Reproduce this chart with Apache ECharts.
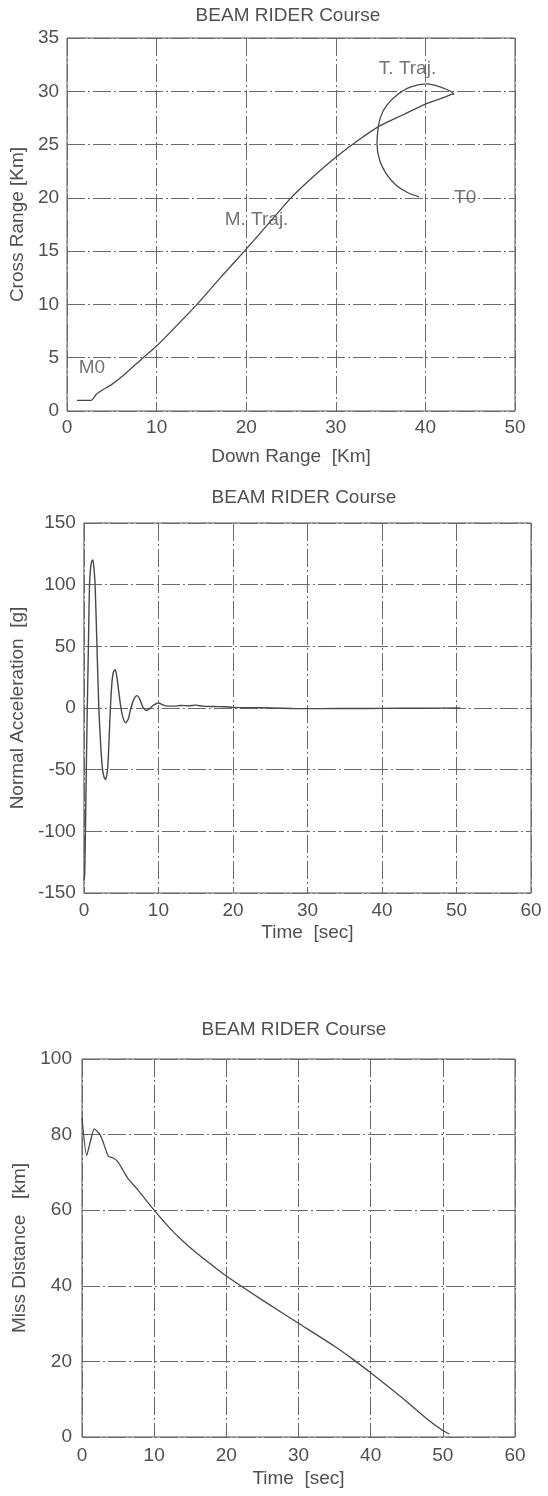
<!DOCTYPE html>
<html>
<head>
<meta charset="utf-8">
<script src="https://cdn.jsdelivr.net/npm/echarts@6/dist/echarts.min.js"></script>
<style>
html,body{margin:0;padding:0;background:#fff;}
#c{width:548px;height:1496px;}
</style>
</head>
<body>
<div id="c"></div>
<script>
var titles = ['BEAM RIDER Course', 'BEAM RIDER Course', 'BEAM RIDER Course'];
var xNames = ['Down Range  [Km]', 'Time  [sec]', 'Time  [sec]'];
var yNames = ['Cross Range [Km]', 'Normal Acceleration  [g]', 'Miss Distance   [km]'];

// ---------- Chart 1: trajectories ----------
var mTrajX = [1.1, 2.7, 3.3, 4.0, 5.0, 6.5, 8.5, 10.0, 12.0, 14.5, 17.0, 19.8, 22.5, 25.0, 27.5, 30.0, 32.5, 35.0, 37.5, 40.0, 42.0, 43.2];
var mTrajY = [1.0, 1.0, 1.6, 2.0, 2.5, 3.5, 5.0, 6.1, 7.8, 10.0, 12.4, 15.0, 17.6, 20.0, 22.0, 23.8, 25.4, 26.8, 27.8, 28.8, 29.4, 29.8];

var tTrajX = [39.3, 38.0, 36.7, 35.6, 34.9, 34.6, 34.7, 35.0, 35.7, 36.9, 38.3, 40.2, 41.7, 42.8, 43.2];
var tTrajY = [20.1, 20.5, 21.2, 22.3, 23.5, 25.0, 26.4, 27.6, 28.7, 29.7, 30.4, 30.7, 30.4, 30.0, 29.7];

var annoText = ['M0', 'M. Traj.', 'T. Traj.', 'T0'];
var annoX = [1.3, 17.6, 34.8, 43.2];
var annoY = [4.1, 17.9, 32.1, 20.0];

// ---------- Chart 2: normal acceleration ----------
var accT = [0, 0.1, 0.2, 0.32, 0.45, 0.6, 0.75, 0.9, 1.05, 1.2, 1.35, 1.5, 1.75, 2.0, 2.25, 2.5, 2.7, 2.88, 3.05, 3.2, 3.38, 3.55, 3.75, 3.95, 4.2, 4.45, 4.7, 4.97, 5.25, 5.6, 5.95, 6.3, 6.7, 7.1, 7.5, 7.9, 8.4, 8.9, 9.4, 10.0, 10.6, 11.2, 12.0, 13.0, 14.0, 15.0, 16.0, 17.5, 19.0, 20.0, 22.0, 25.0, 28.0, 32.0, 36.0, 40.0, 45.0, 50.5];
var accVal = [-140, -135, -100, -50, 0, 50, 100, 114, 119, 120, 113, 100, 50, 0, -30, -50, -56, -58, -55, -48, -25, 0, 20, 29, 31, 24, 12, 0, -8, -12, -9, 0, 7, 10, 7, 1, -2, 0, 2.5, 4, 2.5, 1.5, 1.5, 2, 1.8, 2.3, 1.5, 1.2, 1, 0.5, 0.3, 0, -0.4, -0.5, -0.4, -0.3, -0.2, 0];

// ---------- Chart 3: miss distance ----------
var missT = [0, 0.65, 1.2, 1.7, 2.5, 2.95, 3.65, 4.35, 5.0, 5.7, 6.4, 7.6, 10.0, 12.0, 14.0, 16.0, 18.0, 20.0, 25.0, 30.0, 35.0, 37.5, 40.0, 44.6, 48.0, 50.0, 50.9];
var missVal = [84.4, 74.5, 78.5, 81.5, 80.0, 77.9, 74.3, 73.8, 72.7, 70.5, 68.3, 65.7, 60.0, 55.6, 51.8, 48.5, 45.5, 42.6, 36.2, 30.1, 24.0, 20.6, 17.0, 10.0, 4.5, 1.7, 0.8];

function pairs(xs, ys) { return xs.map(function (x, i) { return [x, ys[i]]; }); }

var FONT = '"Liberation Sans", Arial, Helvetica, sans-serif';
var TXT = '#505050';
var LINE = '#484848';
var GRIDC = '#6a6a6a';

var grids = [
  {left: 65, top: 38, width: 450, height: 373},
  {left: 82, top: 523, width: 449, height: 370},
  {left: 82, top: 1059, width: 433, height: 378}
];
var xCfg = [
  {min: 0, max: 50, interval: 10, nameGap: 36, margin: 7},
  {min: 0, max: 60, interval: 10, nameGap: 30, margin: 8},
  {min: 0, max: 60, interval: 10, nameGap: 32, margin: 9}
];
var yCfg = [
  {min: 0, max: 35, interval: 5, nameGap: 28, margin: 8},
  {min: -150, max: 150, interval: 50, nameGap: 49, margin: 8},
  {min: 0, max: 100, interval: 20, nameGap: 36, margin: 10}
];
var titlePos = [[288, 16], [304, 498], [294, 1030]];

function axisCommon(cfg, name, idx) {
  return {
    type: 'value', gridIndex: idx, min: cfg.min, max: cfg.max, interval: cfg.interval,
    name: name, nameLocation: 'middle', nameGap: cfg.nameGap,
    nameTextStyle: {color: TXT, fontSize: 19, fontFamily: FONT},
    axisLine: {show: false}, axisTick: {show: false},
    axisLabel: {color: TXT, fontSize: 19, fontFamily: FONT, margin: cfg.margin},
    splitLine: {show: true, lineStyle: {color: GRIDC, width: 1, type: [18, 3, 2, 3]}}
  };
}

var option = {
  backgroundColor: '#ffffff',
  animation: false,
  grid: grids.map(function (g) {
    return {left: g.left, top: g.top, width: g.width, height: g.height, show: true,
      borderColor: '#555', borderWidth: 1, backgroundColor: 'transparent', containLabel: false};
  }),
  xAxis: xCfg.map(function (c, i) { return axisCommon(c, xNames[i], i); }),
  yAxis: yCfg.map(function (c, i) { return axisCommon(c, yNames[i], i); }),
  graphic: titles.map(function (t, i) {
    return {type: 'text', x: titlePos[i][0], y: titlePos[i][1],
      style: {text: t, fill: TXT, fontSize: 19, fontFamily: FONT, align: 'center', verticalAlign: 'middle'}};
  }),
  series: [
    {type: 'line', xAxisIndex: 0, yAxisIndex: 0, data: pairs(mTrajX, mTrajY), showSymbol: false,
      smooth: 0.2, lineStyle: {color: LINE, width: 1.3}},
    {type: 'line', xAxisIndex: 0, yAxisIndex: 0, data: pairs(tTrajX, tTrajY), showSymbol: false,
      smooth: 0.3, lineStyle: {color: LINE, width: 1.3}},
    {type: 'scatter', xAxisIndex: 0, yAxisIndex: 0, symbolSize: 0,
      data: annoX.map(function (x, i) { return [x, annoY[i], annoText[i]]; }),
      label: {show: true, position: 'right', distance: 0, color: TXT, fontSize: 19, fontFamily: FONT,
        formatter: function (p) { return p.data[2]; }}},
    {type: 'line', xAxisIndex: 1, yAxisIndex: 1, data: pairs(accT, accVal), showSymbol: false,
      smooth: 0.25, lineStyle: {color: LINE, width: 1.4}},
    {type: 'line', xAxisIndex: 2, yAxisIndex: 2, data: pairs(missT, missVal), showSymbol: false,
      smooth: 0.2, lineStyle: {color: LINE, width: 1.3}}
  ]
};

var chart = echarts.init(document.getElementById('c'), null, {renderer: 'canvas'});
chart.setOption(option);
</script>
</body>
</html>
